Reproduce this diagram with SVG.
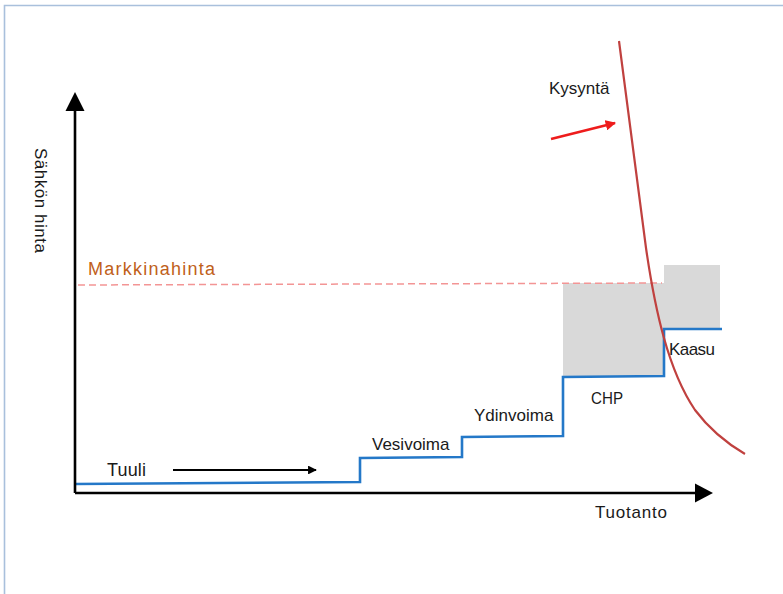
<svg xmlns="http://www.w3.org/2000/svg" width="783" height="594" viewBox="0 0 783 594">
<style>
text{font-family:"Liberation Sans",Arial,sans-serif;font-size:17px;fill:#1a1a1a}
.axis{stroke:#000;stroke-width:2.6;fill:none}
.stair{stroke:#2478c8;stroke-width:2.6;fill:none}
.bar{fill:#d9d9d9}
</style>
<defs>
<marker id="ah" viewBox="0 0 10 10" refX="9" refY="5" markerWidth="4" markerHeight="4" orient="auto" markerUnits="strokeWidth"><path d="M0,0 L10,5 L0,10 z" fill="#000"/></marker>
<marker id="ahr" viewBox="0 0 10 10" refX="9" refY="5" markerWidth="4" markerHeight="4" orient="auto" markerUnits="strokeWidth"><path d="M0,0 L10,5 L0,10 z" fill="#ee1c1c"/></marker>
</defs>
<rect width="783" height="594" fill="#fff"/>
<path d="M4.5,594 V5.5 H783" fill="none" stroke="#a9c0dc" stroke-width="1.6"/>
<g id="bars">
<rect class="bar" x="563" y="283" width="101" height="94"/>
<rect class="bar" x="664" y="265" width="56" height="64"/>
</g>
<g id="markkinahinta">
<line x1="78" y1="285" x2="662" y2="283" stroke="#f39595" stroke-width="1.5" stroke-dasharray="7,4"/>
<text x="88" y="275" style="fill:#c0601a;font-size:18px" textLength="127" lengthAdjust="spacing">Markkinahinta</text>
</g>
<g id="supply">
<path class="stair" d="M75,484 L360,482 V458 L462,457 V437 L563,436 V377 L664,376 V329 L722,329"/>
</g>
<g id="connectors">
<path class="axis" d="M75,493 V110"/>
<path d="M75,92 L84.5,111 L65.5,111 z" fill="#000"/>
<path class="axis" d="M75,493 H696"/>
<path d="M713,493 L695,483.5 L695,502.5 z" fill="#000"/>
<line x1="173" y1="470" x2="316" y2="470" stroke="#000" stroke-width="2.2" marker-end="url(#ah)"/>
<line x1="551" y1="139" x2="615" y2="123" stroke="#ee1c1c" stroke-width="2.6" marker-end="url(#ahr)"/>
<path d="M619,41 L646,248 C655,310 668,370 695,410 C710,430 728,444 745,454" fill="none" stroke="#c0413f" stroke-width="2.2"/>
</g>
<g id="labels">
<text x="107" y="476" style="font-size:18px" textLength="39" lengthAdjust="spacing">Tuuli</text>
<text x="372" y="450">Vesivoima</text>
<text x="474" y="421">Ydinvoima</text>
<text x="591" y="404" style="font-size:16px" textLength="32" lengthAdjust="spacingAndGlyphs">CHP</text>
<text x="669" y="355" textLength="46" lengthAdjust="spacing">Kaasu</text>
<text x="595" y="518" textLength="72" lengthAdjust="spacing">Tuotanto</text>
<text x="549" y="94">Kysyntä</text>
<text transform="translate(35,148) rotate(90)" textLength="105" lengthAdjust="spacing">Sähkön hinta</text>
</g>
</svg>
